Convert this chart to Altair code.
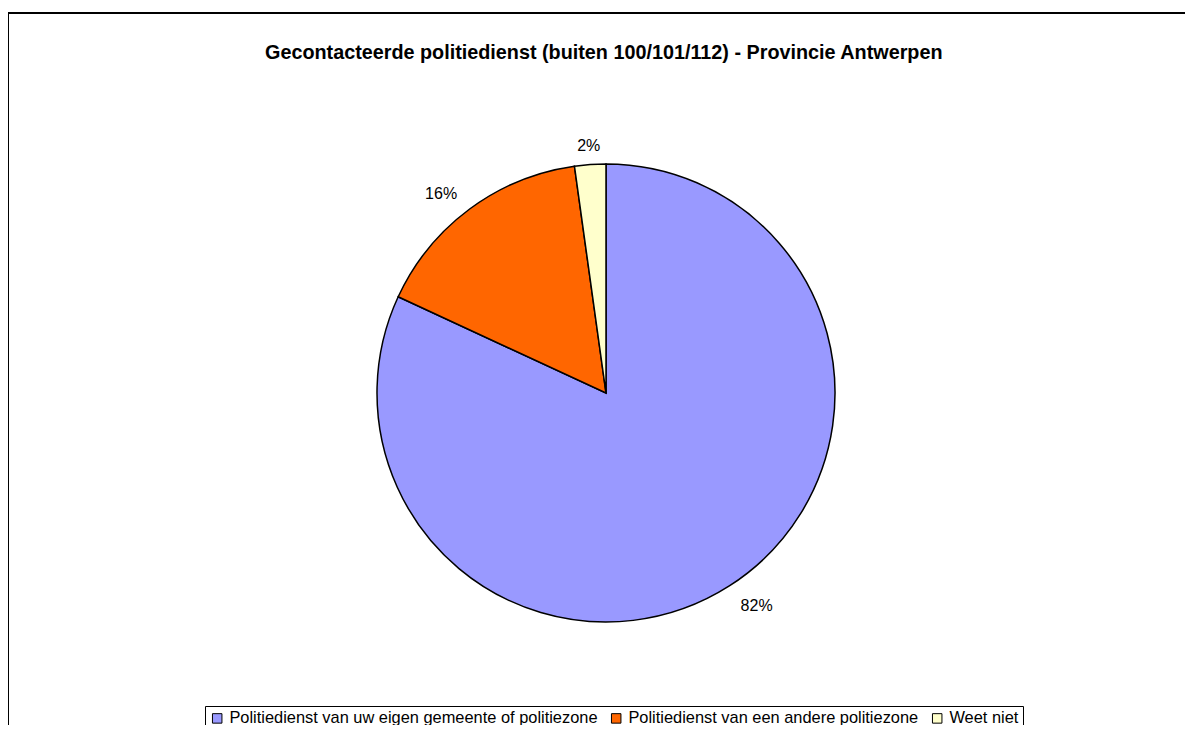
import altair as alt
import pandas as pd

categories = [
    "Politiedienst van uw eigen gemeente of politiezone",
    "Politiedienst van een andere politiezone",
    "Weet niet",
]
values = [81.9, 15.9, 2.2]
labels = ["82%", "16%", "2%"]
colors = ["#9999FF", "#FF6600", "#FFFFCC"]
title_text = "Gecontacteerde politiedienst (buiten 100/101/112) - Provincie Antwerpen"

FONT = "Liberation Sans"

df = pd.DataFrame({
    "categorie": categories,
    "waarde": values,
    "label": labels,
    "volgorde": list(range(len(categories))),
})

CX, CY, R = 598, 385, 229
TOTAL = sum(values)

pie = alt.Chart(df).mark_arc(radius=R, stroke="black", strokeWidth=1.5).encode(
    theta=alt.Theta("waarde:Q", stack=True),
    order=alt.Order("volgorde:Q", sort="ascending"),
    x=alt.value(CX),
    y=alt.value(CY),
    color=alt.Color(
        "categorie:N",
        scale=alt.Scale(domain=categories, range=colors),
        sort=categories,
        legend=alt.Legend(
            title=None,
            orient="none",
            legendX=197,
            legendY=698,
            direction="horizontal",
            strokeColor="black",
            fillColor="white",
            padding=4,
            symbolType="square",
            symbolSize=90,
            symbolStrokeColor="black",
            symbolStrokeWidth=1,
            labelFont=FONT,
            labelFontSize=16.4,
            labelColor="black",
            labelLimit=700,
            columnPadding=10,
            symbolOffset=0,
        ),
    ),
)

# label positions: mid-angle of each stacked slice
label_base = (
    alt.Chart(df)
    .transform_stack(
        stack="waarde", groupby=[], as_=["t0", "t1"],
        sort=[alt.SortField("volgorde", order="ascending")],
    )
    .transform_calculate(mid="(datum.t0 + datum.t1) / 2")
    .encode(
        theta=alt.Theta("mid:Q", scale=alt.Scale(domain=[0, TOTAL])),
        x=alt.value(CX),
        y=alt.value(CY),
        text="label:N",
    )
)

text_style = dict(radius=250, font=FONT, fontSize=16, color="black", baseline="middle", dy=2)

text_right = label_base.transform_filter(
    f"datum.mid > {TOTAL*0.05} && datum.mid < {TOTAL*0.45}"
).mark_text(align="left", **text_style)
text_left = label_base.transform_filter(
    f"datum.mid > {TOTAL*0.55} && datum.mid < {TOTAL*0.95}"
).mark_text(align="right", **text_style)
text_center = label_base.transform_filter(
    f"datum.mid <= {TOTAL*0.05} || datum.mid >= {TOTAL*0.95} || "
    f"(datum.mid >= {TOTAL*0.45} && datum.mid <= {TOTAL*0.55})"
).mark_text(align="center", **text_style)

frame_df = pd.DataFrame({"f": [1]})
frame = alt.Chart(frame_df).mark_rect(
    fill=None, fillOpacity=0, stroke="black", strokeWidth=2
).encode(
    x=alt.value(0), x2=alt.value(1400), y=alt.value(5), y2=alt.value(900)
)

chart = alt.layer(frame, pie, text_right, text_left, text_center).properties(
    width=1177,
    height=717,
    padding=0,
    autosize=alt.AutoSizeParams(type="none"),
    title=alt.TitleParams(
        title_text,
        font=FONT,
        fontSize=19.8,
        fontWeight="bold",
        color="black",
        anchor="start",
        dy=59,
        dx=258,
    ),
).configure_view(stroke=None)

chart.save("out.html", embed_options={"renderer": "svg", "actions": False})
